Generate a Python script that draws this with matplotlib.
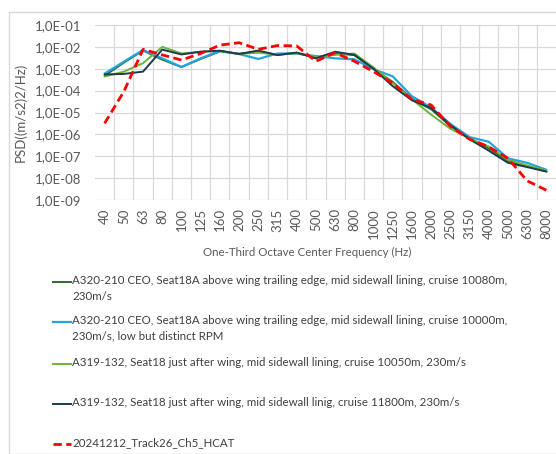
"""
One-third octave PSD comparison: A320/A319 cabin measurements vs HCAT track.
"""

import matplotlib

matplotlib.use("Agg")
import matplotlib.pyplot as plt
from matplotlib.lines import Line2D
from matplotlib.patches import Rectangle
from matplotlib.ticker import FixedLocator, FuncFormatter, NullFormatter

plt.rcParams["font.family"] = ["Lato", "DejaVu Sans"]

FREQS = ["40", "50", "63", "80", "100", "125", "160", "200", "250", "315",
         "400", "500", "630", "800", "1000", "1250", "1600", "2000", "2500",
         "3150", "4000", "5000", "6300", "8000"]

A320_10080 = [4.8e-4, 1.9e-3, 6.8e-3, 2.6e-3, 1.2e-3, 2.8e-3, 6.2e-3, 4.9e-3,
              6.0e-3, 4.4e-3, 5.3e-3, 3.2e-3, 5.0e-3, 4.2e-3, 1.0e-3, 2.5e-4,
              4.2e-5, 1.4e-5, 2.4e-6, 6.2e-7, 2.3e-7, 6.0e-8, 3.5e-8, 2.0e-8]
A320_10000 = [6.0e-4, 2.1e-3, 7.2e-3, 3.0e-3, 1.2e-3, 3.0e-3, 6.5e-3, 4.7e-3,
              2.8e-3, 5.0e-3, 5.0e-3, 3.8e-3, 3.0e-3, 2.7e-3, 9.5e-4, 4.5e-4,
              5.5e-5, 1.7e-5, 3.0e-6, 7.5e-7, 4.6e-7, 8.0e-8, 5.0e-8, 2.4e-8]
A319_10050 = [4.4e-4, 7.4e-4, 1.8e-3, 1.0e-2, 5.0e-3, 6.0e-3, 6.5e-3, 4.8e-3,
              5.4e-3, 4.5e-3, 5.0e-3, 3.5e-3, 4.3e-3, 5.0e-3, 1.15e-3, 2.2e-4,
              4.0e-5, 8.0e-6, 1.8e-6, 6.5e-7, 2.8e-7, 6.8e-8, 3.8e-8, 2.2e-8]
A319_11800 = [5.5e-4, 5.8e-4, 7.4e-4, 7.5e-3, 4.5e-3, 6.0e-3, 6.7e-3, 4.7e-3,
              6.8e-3, 4.2e-3, 5.5e-3, 3.0e-3, 6.0e-3, 4.3e-3, 1.0e-3, 1.6e-4,
              3.6e-5, 1.6e-5, 2.7e-6, 6.0e-7, 1.8e-7, 5.0e-8, 3.2e-8, 2.0e-8]
HCAT = [3.2e-6, 9.0e-5, 7.7e-3, 4.3e-3, 2.5e-3, 5.0e-3, 1.2e-2, 1.55e-2,
        7.7e-3, 1.15e-2, 1.1e-2, 2.2e-3, 5.4e-3, 2.2e-3, 7.4e-4, 2.2e-4,
        4.0e-5, 2.2e-5, 2.3e-6, 6.0e-7, 2.7e-7, 8.0e-8, 7.5e-9, 2.8e-9]

LABELS = [
    "A320-210 CEO, Seat18A above wing trailing edge, mid sidewall lining, cruise 10080m,\n230m/s",
    "A320-210 CEO, Seat18A above wing trailing edge, mid sidewall lining, cruise 10000m,\n230m/s, low but distinct RPM",
    "A319-132, Seat18 just after wing, mid sidewall lining, cruise 10050m, 230m/s",
    "A319-132, Seat18 just after wing, mid sidewall linig, cruise 11800m, 230m/s",
    "20241212_Track26_Ch5_HCAT",
]

W, H = 556, 454
TEXT = "#595959"

series = [
    (A320_10080, dict(color="#2f6b2f", lw=1.4)),
    (A320_10000, dict(color="#22a5dd", lw=1.6)),
    (A319_10050, dict(color="#6cb33f", lw=1.4)),
    (A319_11800, dict(color="#1d3b4c", lw=1.4)),
    (HCAT, dict(color="#ff0000", lw=2.0, ls=(0, (3, 1.6)))),
]

fig = plt.figure(figsize=(W / 100, H / 100), dpi=100)
fig.patches.append(Rectangle((9 / W, 0), 1, 1 - 12 / H, transform=fig.transFigure,
                             fill=False, ec="#d9d9d9", lw=1.0))

ax = fig.add_axes([95 / W, 1 - 200 / H, (W - 95) / W, 175 / H])
x = list(range(len(FREQS)))
for vals, style in series:
    ax.plot(x, vals, solid_capstyle="round", **style)

ax.set_yscale("log")
ax.set_ylim(1e-9, 1e-1)
ax.set_xlim(-0.5, len(FREQS) - 0.5)
ax.yaxis.set_major_locator(FixedLocator([10.0 ** e for e in range(-9, 0)]))
ax.yaxis.set_major_formatter(FuncFormatter(lambda v, _: f"{v:.1E}".replace(".", ",")))
ax.yaxis.set_minor_formatter(NullFormatter())
ax.set_xticks(x)
ax.set_xticklabels(FREQS, rotation=90)
ax.set_xticks([i + 0.5 for i in x[:-1]], minor=True)

ax.grid(False)
ax.grid(True, which="major", axis="y", color="#d9d9d9", lw=0.9)
ax.grid(True, which="minor", axis="y", color="#f0f0f0", lw=0.8)
ax.grid(True, which="minor", axis="x", color="#d9d9d9", lw=0.9)
ax.set_axisbelow(True)
for s in ax.spines.values():
    s.set_visible(False)
ax.tick_params(which="both", length=0, colors=TEXT, labelsize=9.5)
ax.tick_params(axis="x", pad=6)
ax.tick_params(axis="y", pad=10)

ax.set_ylabel("PSD((m/s2)2/Hz)", color=TEXT, fontsize=9.5, labelpad=6)
fig.text(307 / W, 1 - 252 / H, "One-Third Octave Center Frequency (Hz)",
         ha="center", va="center", color=TEXT, fontsize=8.3)

# legend drawn by hand to keep Excel's uneven spacing
rows = [281.5, 321.5, 364, 403.5, 444]
for (vals, style), label, y in zip(series, LABELS, rows):
    fy = 1 - y / H
    fig.add_artist(Line2D([53 / W, 71 / W], [fy, fy], transform=fig.transFigure, **style))
    fig.text(72 / W, fy + 6.5 / H, label, ha="left", va="top", color="#404040",
             fontsize=8.3, linespacing=1.5)

fig.savefig("out.png", dpi=100)
